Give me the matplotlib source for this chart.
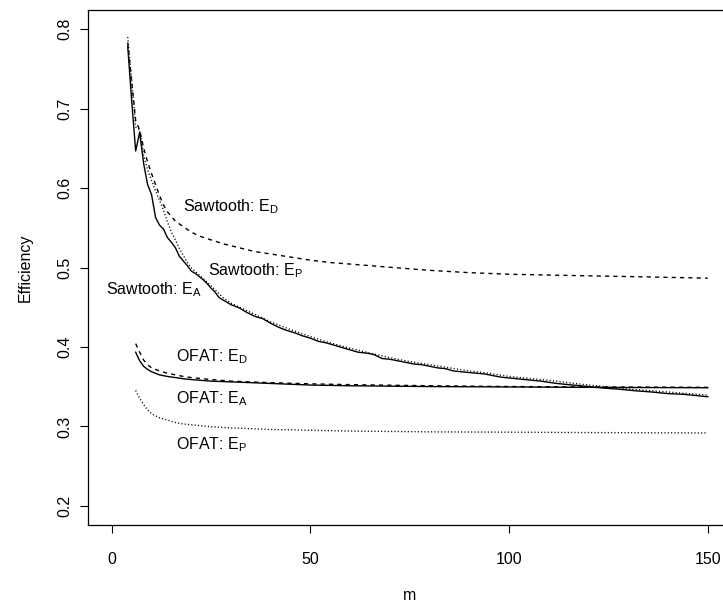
import matplotlib
matplotlib.use("Agg")
import matplotlib.pyplot as plt

plt.rcParams['font.family'] = ['Liberation Sans', 'DejaVu Sans']

# ---- data ----
saw_A_m = [4, 5, 6, 7, 8, 9, 10, 11, 12, 13, 14, 15, 16, 17, 18, 19, 20, 21, 22, 23, 24, 25,
           26, 27, 28, 29, 30, 32, 34, 36, 38, 40, 42, 44, 46, 48, 50, 52, 54, 56, 58, 60,
           62, 64, 66, 68, 70, 72, 74, 76, 78, 80, 82, 84, 86, 88, 90, 92, 94, 96, 98, 100,
           104, 108, 112, 116, 120, 124, 128, 132, 136, 140, 144, 148, 150]
saw_A = [0.7781, 0.7094, 0.6466, 0.6701, 0.6309, 0.6044, 0.5916, 0.5631, 0.5533, 0.5484,
         0.5376, 0.5317, 0.5249, 0.5141, 0.5082, 0.5023, 0.4954, 0.4925, 0.4886, 0.4846,
         0.4797, 0.4738, 0.4689, 0.4621, 0.4591, 0.4562, 0.4532, 0.4493, 0.4434, 0.4385,
         0.4356, 0.4297, 0.4248, 0.4208, 0.4179, 0.4140, 0.4110, 0.4071, 0.4051, 0.4022,
         0.3992, 0.3963, 0.3934, 0.3924, 0.3904, 0.3855, 0.3845, 0.3826, 0.3806, 0.3786,
         0.3777, 0.3757, 0.3737, 0.3727, 0.3698, 0.3688, 0.3678, 0.3669, 0.3659, 0.3639,
         0.3620, 0.3610, 0.3590, 0.3570, 0.3541, 0.3521, 0.3502, 0.3482, 0.3467, 0.3448,
         0.3433, 0.3413, 0.3404, 0.3384, 0.3374]

saw_P_m = [4, 5, 6, 7, 8, 9, 10, 11, 12, 13, 14, 15, 16, 17, 18, 19, 20, 22, 24, 26, 28, 30,
           35, 40, 45, 50, 55, 60, 65, 70, 75, 80, 85, 90, 95, 100, 110, 120, 130, 140, 150]
saw_P = [0.7899, 0.7339, 0.6770, 0.6731, 0.6407, 0.6230, 0.6093, 0.5965, 0.5847, 0.5720,
         0.5573, 0.5445, 0.5347, 0.5239, 0.5151, 0.5062, 0.4994, 0.4905, 0.4817, 0.4719,
         0.4621, 0.4552, 0.4434, 0.4316, 0.4218, 0.4130, 0.4051, 0.3983, 0.3924, 0.3865,
         0.3816, 0.3777, 0.3737, 0.3698, 0.3669, 0.3629, 0.3580, 0.3521, 0.3472, 0.3433,
         0.3394]

saw_D_m = [4, 5, 6, 7, 8, 9, 10, 11, 12, 13, 14, 15, 16, 18, 20, 22, 25, 28, 32, 36, 40, 45,
           50, 55, 60, 70, 80, 90, 100, 110, 120, 130, 140, 150]
saw_D = [0.7830, 0.7339, 0.6848, 0.6731, 0.6505, 0.6328, 0.6181, 0.6044, 0.5906, 0.5788,
         0.5700, 0.5641, 0.5582, 0.5514, 0.5445, 0.5396, 0.5347, 0.5298, 0.5249, 0.5200,
         0.5170, 0.5131, 0.5092, 0.5062, 0.5043, 0.5003, 0.4964, 0.4935, 0.4915, 0.4905,
         0.4895, 0.4886, 0.4876, 0.4866]

ofat_m = [6, 7, 8, 9, 10, 12, 14, 16, 18, 20, 25, 30, 40, 50, 60, 80, 100, 120, 150]
ofat_D = [0.4042, 0.3934, 0.3835, 0.3777, 0.3737, 0.3698, 0.3669, 0.3649, 0.3629, 0.3615,
          0.3590, 0.3570, 0.3551, 0.3536, 0.3526, 0.3512, 0.3502, 0.3497, 0.3492]
ofat_A = [0.3934, 0.3826, 0.3757, 0.3718, 0.3688, 0.3649, 0.3629, 0.3615, 0.3600, 0.3590,
          0.3570, 0.3561, 0.3541, 0.3521, 0.3512, 0.3502, 0.3497, 0.3492, 0.3487]
ofat_P = [0.3453, 0.3355, 0.3276, 0.3207, 0.3158, 0.3109, 0.3080, 0.3050, 0.3031, 0.3021,
          0.2996, 0.2982, 0.2962, 0.2952, 0.2942, 0.2932, 0.2928, 0.2923, 0.2918]

x_ticks = [0, 50, 100, 150]
y_ticks = [0.2, 0.3, 0.4, 0.5, 0.6, 0.7, 0.8]
y_range = (0.2, 0.8)
x_range = (0, 150)

labels = [("Sawtooth: E$_\\mathregular{D}$", 30.0, 0.5769),
          ("Sawtooth: E$_\\mathregular{P}$", 36.3, 0.4964),
          ("Sawtooth: E$_\\mathregular{A}$", 10.5, 0.4719),
          ("OFAT: E$_\\mathregular{D}$", 25.1, 0.3884),
          ("OFAT: E$_\\mathregular{A}$", 25.1, 0.3355),
          ("OFAT: E$_\\mathregular{P}$", 25.1, 0.2775)]

# ---- figure ----
W, H = 723, 602
fig = plt.figure(figsize=(W / 100, H / 100), dpi=100)
left, right, top, bottom = 88, 731.6, 10, 525
ax = fig.add_axes([left / W, (H - bottom) / H, (right - left) / W, (bottom - top) / H])

dash = (0, (3, 3))
dot = (0, (0.8, 1.6))
lw = 1.0
ax.plot(saw_D_m, saw_D, color='black', lw=lw, linestyle=dash)
ax.plot(saw_A_m, saw_A, color='black', lw=lw, linestyle='-')
ax.plot(saw_P_m, saw_P, color='black', lw=lw, linestyle=dot)
ax.plot(ofat_m, ofat_D, color='black', lw=lw, linestyle=dash)
ax.plot(ofat_m, ofat_A, color='black', lw=lw, linestyle='-')
ax.plot(ofat_m, ofat_P, color='black', lw=lw, linestyle=dot)

for txt, xx, yy in labels:
    ax.text(xx, yy, txt, ha='center', va='center', fontsize=11.5, clip_on=False)

# R-style 4% axis expansion
xs = (x_range[1] - x_range[0]) * 0.04
ys = (y_range[1] - y_range[0]) * 0.04
ax.set_xlim(x_range[0] - xs, x_range[1] + xs)
ax.set_ylim(y_range[0] - ys, y_range[1] + ys)
ax.set_xticks(x_ticks)
ax.set_xticklabels([str(v) for v in x_ticks])
ax.set_yticks(y_ticks)
ax.set_yticklabels([f"{v:.1f}" for v in y_ticks], rotation=90, va='center')
ax.tick_params(direction='out', length=5.5, width=0.8, labelsize=11.5, pad=14)
ax.tick_params(axis='y', pad=6)
for s in ax.spines.values():
    s.set_linewidth(0.9)
ax.xaxis.set_label_coords(0.5, -0.136)
ax.set_xlabel("m", fontsize=11.5, va='center')
ax.yaxis.set_label_coords(-0.098, 0.5)
ax.set_ylabel("Efficiency", fontsize=11.5, va='center')

fig.savefig("out.png", dpi=100)
